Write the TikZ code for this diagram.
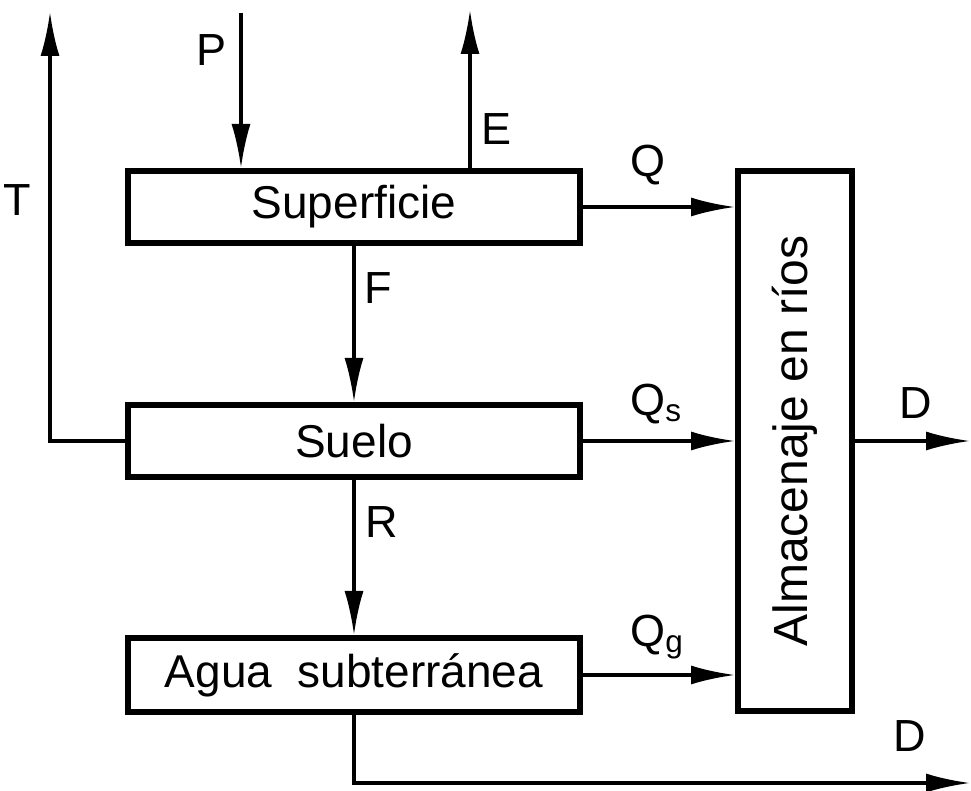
\documentclass[tikz,border=0pt]{standalone}
\usepackage{fontspec}
\setmainfont{Liberation Sans}
\usetikzlibrary{arrows.meta}

\begin{document}
\begin{tikzpicture}[x=0.5pt,y=-0.5pt,
    box/.style={draw,line width=3pt,rectangle,minimum width=226pt,minimum height=36pt,inner sep=0pt,
      font=\fontsize{23}{27}\selectfont},
    flow/.style={line width=1.6pt,-{Latex[length=22pt,width=9.5pt]}},
    lbl/.style={font=\fontsize{22.5}{27}\selectfont,inner sep=0pt}]
  \useasboundingbox (0,0) rectangle (971,791);

  % the three stores on the left
  \node[box] (sup) at (354,207) {Superficie};
  \node[box] (suelo) at (354,441) {Suelo};
  \node[box,minimum height=37pt] (agua) at (354,675) {Agua\ \ subterr\'anea};

  % river storage
  \node[box,minimum width=57pt,minimum height=270pt] (alm) at (795,441) {};
  \node[lbl,rotate=90,font=\fontsize{24}{28}\selectfont] (almtxt) at (alm.center) {Almacenaje en r\'ios};

  % free ends
  \coordinate (tTop) at (50,12);
  \coordinate (pTop) at (241,13);
  \coordinate (eTop) at (470,10);
  \coordinate (dOut) at (970,441);
  \coordinate (dLow) at (970,783);

  % vertical fluxes
  \draw[flow] (pTop) -- (pTop |- sup.north);
  \draw[flow] (eTop |- sup.north) -- (eTop);
  \draw[flow] (suelo.west) -| (tTop);
  \draw[flow] (sup.south) -- (suelo.north);
  \draw[flow] (suelo.south) -- (agua.north);

  % flows into the rivers
  \foreach \src in {sup,suelo,agua}
    \draw[flow] (\src.east) -- (\src.east -| alm.west);
  \draw[flow] (alm.east) -- (dOut);
  \draw[flow] (agua.south) |- (dLow);

  % labels
  \node[lbl] (lT) at (17,200) {T};
  \node[lbl] (lP) at (212,50) {P};
  \node[lbl] (lE) at (497,129) {E};
  \node[lbl] (lF) at (378,288) {F};
  \node[lbl] (lR) at (382,522) {R};
  \node[lbl,anchor=west] (lQ) at (630,165) {Q};
  \node[lbl,anchor=west] (lQs) at (630,404) {Q\textsubscript{s}};
  \node[lbl,anchor=west] (lQg) at (630,637) {Q\textsubscript{g}};
  \node[lbl] (lD) at (916,403) {D};
  \node[lbl] (lDlow) at (910,736) {D};
\end{tikzpicture}
\end{document}
